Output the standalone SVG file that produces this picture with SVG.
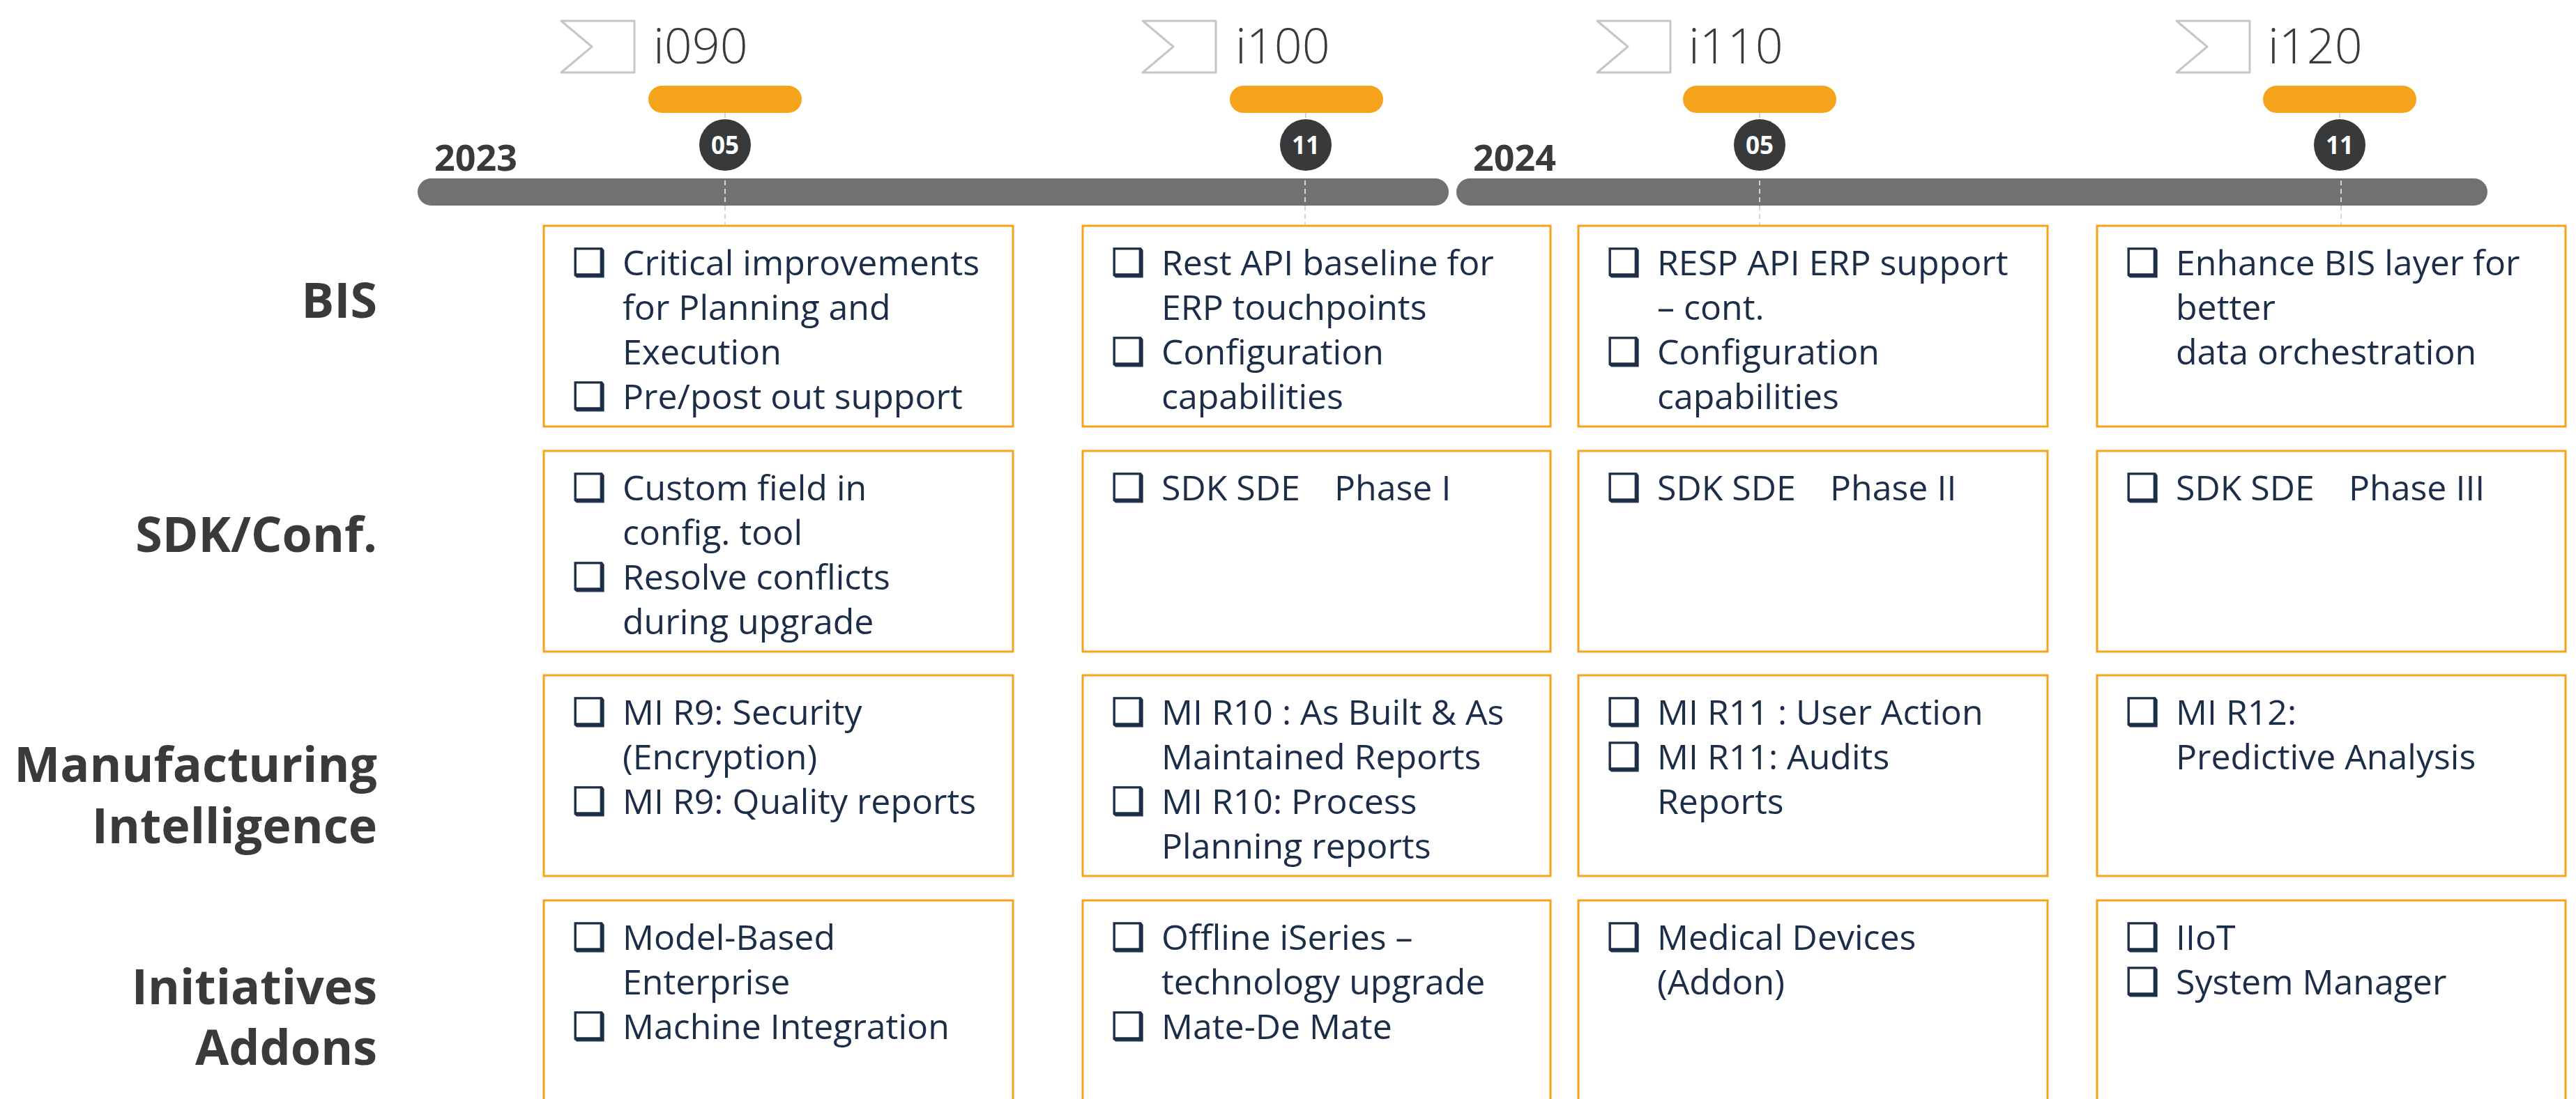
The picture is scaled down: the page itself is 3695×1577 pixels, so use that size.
<svg xmlns="http://www.w3.org/2000/svg" width="3695" height="1577" viewBox="0 0 3695 1577">
<style>
.bg{fill:#ffffff}
.box{fill:#ffffff;stroke:#F5A31A;stroke-width:3}
.item{font-family:"Open Sans","Noto Sans",sans-serif;font-size:50px;fill:#1b2d47}
.bul{font-family:"DejaVu Sans",sans-serif;font-size:54px;fill:#1b2d47;stroke:#1b2d47;stroke-width:1.2}
.lbl{font-family:"Open Sans","Noto Sans",sans-serif;font-weight:700;font-size:70px;fill:#3a3a3c;text-anchor:end}
.year{font-family:"Open Sans","Noto Sans",sans-serif;font-weight:700;font-size:52px;fill:#3a3a3c}
.rel{font-family:"Open Sans","Noto Sans",sans-serif;font-weight:300;font-size:70px;fill:#3a3a3c}
.flag{fill:#ffffff;stroke:#c6c6c6;stroke-width:3;stroke-linejoin:round}
.pill{fill:#F5A31A}
.dot{fill:#38393b}
.num{font-family:"Open Sans","Noto Sans",sans-serif;font-weight:700;font-size:35px;fill:#ffffff;text-anchor:middle}
.bar{fill:#717173}
.dash{stroke:#d4d4d4;stroke-width:2;stroke-dasharray:7 5;fill:none}
</style>
<rect class="bg" x="0" y="0" width="3695" height="1577"/>

<g id="timeline">
  <rect class="bar" x="599" y="256" width="1479" height="39" rx="19.5"/>
  <rect class="bar" x="2089" y="256" width="1479" height="39" rx="19.5"/>
  <text class="year" x="623" y="245">2023</text>
  <text class="year" x="2113" y="245">2024</text>
</g>

<g id="connectors">
  <line class="dash" x1="1040" y1="162" x2="1040" y2="171"/>
  <line class="dash" x1="1040" y1="259" x2="1040" y2="328"/>
  <line class="dash" x1="1873" y1="162" x2="1873" y2="171"/>
  <line class="dash" x1="1872" y1="259" x2="1872" y2="328"/>
  <line class="dash" x1="2524" y1="162" x2="2524" y2="171"/>
  <line class="dash" x1="2524" y1="259" x2="2524" y2="328"/>
  <line class="dash" x1="3356" y1="162" x2="3356" y2="171"/>
  <line class="dash" x1="3358" y1="259" x2="3358" y2="328"/>
</g>

<g id="m-i090">
  <polygon class="flag" points="805,30 910,30 910,104 805,104 849,67"/>
  <text class="rel" x="937" y="91">i090</text>
  <rect class="pill" x="930" y="123" width="220" height="39" rx="19.5"/>
  <circle class="dot" cx="1040" cy="208" r="37"/>
  <text class="num" x="1040" y="221">05</text>
</g>
<g id="m-i100">
  <polygon class="flag" points="1639,30 1744,30 1744,104 1639,104 1683,67"/>
  <text class="rel" x="1772" y="91">i100</text>
  <rect class="pill" x="1764" y="123" width="220" height="39" rx="19.5"/>
  <circle class="dot" cx="1873" cy="208" r="37"/>
  <text class="num" x="1873" y="221">11</text>
</g>
<g id="m-i110">
  <polygon class="flag" points="2291,30 2396,30 2396,104 2291,104 2335,67"/>
  <text class="rel" x="2422" y="91">i110</text>
  <rect class="pill" x="2414" y="123" width="220" height="39" rx="19.5"/>
  <circle class="dot" cx="2524" cy="208" r="37"/>
  <text class="num" x="2524" y="221">05</text>
</g>
<g id="m-i120">
  <polygon class="flag" points="3122,30 3227,30 3227,104 3122,104 3166,67"/>
  <text class="rel" x="3253" y="91">i120</text>
  <rect class="pill" x="3246" y="123" width="220" height="39" rx="19.5"/>
  <circle class="dot" cx="3356" cy="208" r="37"/>
  <text class="num" x="3356" y="221">11</text>
</g>

<g id="row-labels">
  <text class="lbl" x="541" y="456">BIS</text>
  <text class="lbl" x="541" y="792">SDK/Conf.</text>
  <text class="lbl" x="541" y="1122">Manufacturing</text>
  <text class="lbl" x="541" y="1210">Intelligence</text>
  <text class="lbl" x="541" y="1441">Initiatives</text>
  <text class="lbl" x="541" y="1528">Addons</text>
</g>

<!-- BIS row -->
<g id="bis-i090">
  <rect class="box" x="780" y="324" width="673" height="288"/>
  <text class="bul" x="821" y="395">❑</text>
  <text class="item" x="893" y="395">Critical improvements</text>
  <text class="item" x="893" y="459">for Planning and</text>
  <text class="item" x="893" y="523">Execution</text>
  <text class="bul" x="821" y="587">❑</text>
  <text class="item" x="893" y="587">Pre/post out support</text>
</g>
<g id="bis-i100">
  <rect class="box" x="1553" y="324" width="671" height="288"/>
  <text class="bul" x="1594" y="395">❑</text>
  <text class="item" x="1666" y="395">Rest API baseline for</text>
  <text class="item" x="1666" y="459">ERP touchpoints</text>
  <text class="bul" x="1594" y="523">❑</text>
  <text class="item" x="1666" y="523">Configuration</text>
  <text class="item" x="1666" y="587">capabilities</text>
</g>
<g id="bis-i110">
  <rect class="box" x="2264" y="324" width="673" height="288"/>
  <text class="bul" x="2305" y="395">❑</text>
  <text class="item" x="2377" y="395">RESP API ERP support</text>
  <text class="item" x="2377" y="459">– cont.</text>
  <text class="bul" x="2305" y="523">❑</text>
  <text class="item" x="2377" y="523">Configuration</text>
  <text class="item" x="2377" y="587">capabilities</text>
</g>
<g id="bis-i120">
  <rect class="box" x="3008" y="324" width="672" height="288"/>
  <text class="bul" x="3049" y="395">❑</text>
  <text class="item" x="3121" y="395">Enhance BIS layer for</text>
  <text class="item" x="3121" y="459">better</text>
  <text class="item" x="3121" y="523">data orchestration</text>
</g>

<!-- SDK row -->
<g id="sdk-i090">
  <rect class="box" x="780" y="647" width="673" height="288"/>
  <text class="bul" x="821" y="718">❑</text>
  <text class="item" x="893" y="718">Custom field in</text>
  <text class="item" x="893" y="782">config. tool</text>
  <text class="bul" x="821" y="846">❑</text>
  <text class="item" x="893" y="846">Resolve conflicts</text>
  <text class="item" x="893" y="910">during upgrade</text>
</g>
<g id="sdk-i100">
  <rect class="box" x="1553" y="647" width="671" height="288"/>
  <text class="bul" x="1594" y="718">❑</text>
  <text class="item" x="1666" y="718">SDK SDE<tspan x="1914">Phase I</tspan></text>
</g>
<g id="sdk-i110">
  <rect class="box" x="2264" y="647" width="673" height="288"/>
  <text class="bul" x="2305" y="718">❑</text>
  <text class="item" x="2377" y="718">SDK SDE<tspan x="2625">Phase II</tspan></text>
</g>
<g id="sdk-i120">
  <rect class="box" x="3008" y="647" width="672" height="288"/>
  <text class="bul" x="3049" y="718">❑</text>
  <text class="item" x="3121" y="718">SDK SDE<tspan x="3369">Phase III</tspan></text>
</g>

<!-- MI row -->
<g id="mi-i090">
  <rect class="box" x="780" y="969" width="673" height="288"/>
  <text class="bul" x="821" y="1040">❑</text>
  <text class="item" x="893" y="1040">MI R9: Security</text>
  <text class="item" x="893" y="1104">(Encryption)</text>
  <text class="bul" x="821" y="1168">❑</text>
  <text class="item" x="893" y="1168">MI R9: Quality reports</text>
</g>
<g id="mi-i100">
  <rect class="box" x="1553" y="969" width="671" height="288"/>
  <text class="bul" x="1594" y="1040">❑</text>
  <text class="item" x="1666" y="1040">MI R10 : As Built &amp; As</text>
  <text class="item" x="1666" y="1104">Maintained Reports</text>
  <text class="bul" x="1594" y="1168">❑</text>
  <text class="item" x="1666" y="1168">MI R10: Process</text>
  <text class="item" x="1666" y="1232">Planning reports</text>
</g>
<g id="mi-i110">
  <rect class="box" x="2264" y="969" width="673" height="288"/>
  <text class="bul" x="2305" y="1040">❑</text>
  <text class="item" x="2377" y="1040">MI R11 : User Action</text>
  <text class="bul" x="2305" y="1104">❑</text>
  <text class="item" x="2377" y="1104">MI R11: Audits</text>
  <text class="item" x="2377" y="1168">Reports</text>
</g>
<g id="mi-i120">
  <rect class="box" x="3008" y="969" width="672" height="288"/>
  <text class="bul" x="3049" y="1040">❑</text>
  <text class="item" x="3121" y="1040">MI R12:</text>
  <text class="item" x="3121" y="1104">Predictive Analysis</text>
</g>

<!-- Initiatives row -->
<g id="init-i090">
  <rect class="box" x="780" y="1292" width="673" height="320"/>
  <text class="bul" x="821" y="1363">❑</text>
  <text class="item" x="893" y="1363">Model-Based</text>
  <text class="item" x="893" y="1427">Enterprise</text>
  <text class="bul" x="821" y="1491">❑</text>
  <text class="item" x="893" y="1491">Machine Integration</text>
</g>
<g id="init-i100">
  <rect class="box" x="1553" y="1292" width="671" height="320"/>
  <text class="bul" x="1594" y="1363">❑</text>
  <text class="item" x="1666" y="1363">Offline iSeries –</text>
  <text class="item" x="1666" y="1427">technology upgrade</text>
  <text class="bul" x="1594" y="1491">❑</text>
  <text class="item" x="1666" y="1491">Mate-De Mate</text>
</g>
<g id="init-i110">
  <rect class="box" x="2264" y="1292" width="673" height="320"/>
  <text class="bul" x="2305" y="1363">❑</text>
  <text class="item" x="2377" y="1363">Medical Devices</text>
  <text class="item" x="2377" y="1427">(Addon)</text>
</g>
<g id="init-i120">
  <rect class="box" x="3008" y="1292" width="672" height="320"/>
  <text class="bul" x="3049" y="1363">❑</text>
  <text class="item" x="3121" y="1363">IIoT</text>
  <text class="bul" x="3049" y="1427">❑</text>
  <text class="item" x="3121" y="1427">System Manager</text>
</g>
</svg>
